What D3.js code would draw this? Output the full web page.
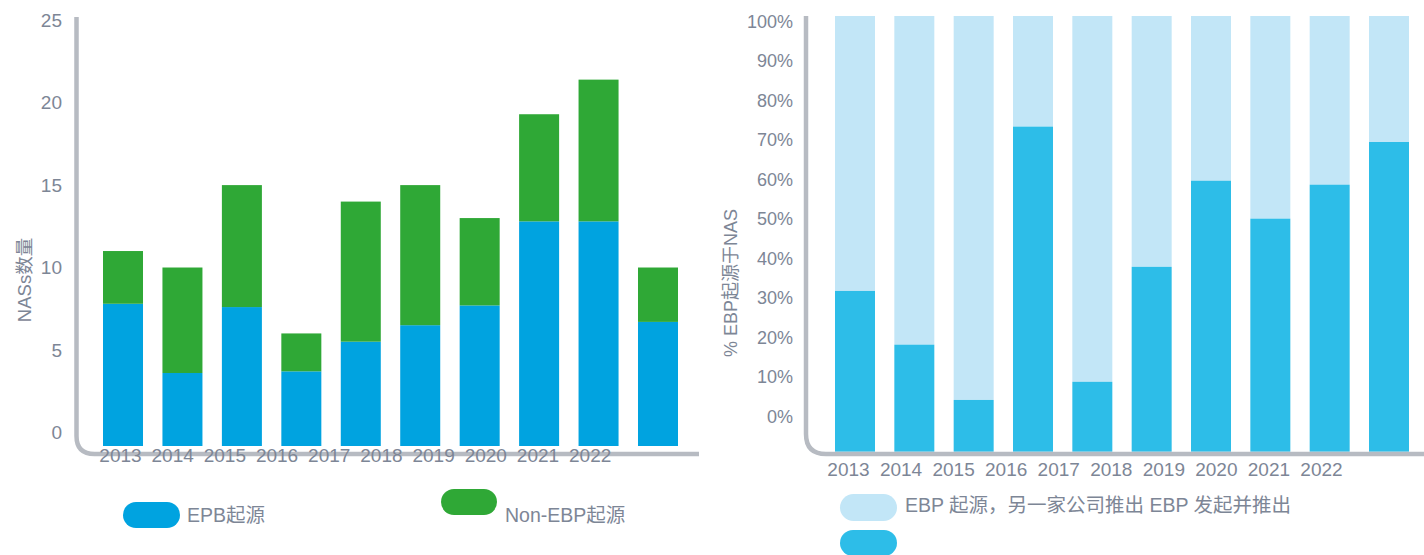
<!DOCTYPE html>
<html><head><meta charset="utf-8">
<script src="https://cdn.jsdelivr.net/npm/d3@7"></script>
<style>
body{margin:0;background:#fff;overflow:hidden}
text{font-family:"Liberation Sans",Arial,"Noto Sans CJK SC",sans-serif;fill:#7d8696}
</style>
</head><body>
<svg id="c" width="1424" height="555"></svg>
<script>
// ---------- data ----------
const years = ["2013","2014","2015","2016","2017","2018","2019","2020","2021","2022"];
// left chart: number of NASs
const epbCounts    = [7.8, 3.6, 7.6, 3.7, 5.5, 6.5, 7.7, 12.8, 12.8, 6.7];
const nonEbpCounts = [3.2, 6.4, 7.4, 2.3, 8.5, 8.5, 5.3, 6.5, 8.6, 3.3];
const countTicks   = [0, 5, 10, 15, 20, 25];
// right chart: % of NASs originated by EBP
const ebpLaunchedPct   = [31.8, 18.2, 4.2, 73.4, 8.8, 37.9, 59.7, 50.1, 58.7, 69.5];
const otherLaunchedPct = [68.2, 81.8, 95.8, 26.6, 91.2, 62.1, 40.3, 49.9, 41.3, 30.5];
const pctTicks = [0, 10, 20, 30, 40, 50, 60, 70, 80, 90, 100];

const leftLegend  = ["EPB起源", "Non-EBP起源"];
const rightLegend = ["EBP 起源，另一家公司推出 EBP 发起并推出", ""];
const leftTitle  = "NASs数量";
const rightTitle = "% EBP起源于NAS";

// ---------- styles ----------
const C = {blue:"#00a3e0", green:"#2fa836", dark:"#2dbde8", light:"#c2e6f7", axis:"#b7bbc2", text:"#7d8696"};
const svg = d3.select("#c");

function axisFrame(x0, yTop, yBot, xEnd, r){
  const p = d3.path();
  p.moveTo(x0, yTop);
  p.lineTo(x0, yBot - r);
  p.quadraticCurveTo(x0, yBot, x0 + r, yBot);
  p.lineTo(xEnd, yBot);
  svg.append("path").attr("d", p.toString()).attr("fill","none")
     .attr("stroke", C.axis).attr("stroke-width", 4.5);
}
function pill(x, y, w, h, color){
  svg.append("rect").attr("x",x).attr("y",y).attr("width",w).attr("height",h)
     .attr("rx",h/2).attr("fill",color);
}

// ================= LEFT CHART =================
{
  const y = d3.scaleLinear().domain([-0.83, 25.2]).range([446, 17]);
  const x = d3.scaleBand().domain(years).range([103, 678]).paddingInner(0.327).paddingOuter(0);
  const xl = d3.scalePoint().domain(years).range([120.5, 590.2]);
  const base = y.domain()[0];

  axisFrame(76.5, y(y.domain()[1]), 454, 699, 18);

  const g = svg.append("g");
  g.selectAll("rect.epb").data(years).join("rect").attr("class","epb")
    .attr("x", d => x(d)).attr("width", x.bandwidth())
    .attr("y", (d,i) => y(epbCounts[i])).attr("height", (d,i) => y(base) - y(epbCounts[i]))
    .attr("fill", C.blue);
  g.selectAll("rect.non").data(years).join("rect").attr("class","non")
    .attr("x", d => x(d)).attr("width", x.bandwidth())
    .attr("y", (d,i) => y(epbCounts[i] + nonEbpCounts[i]))
    .attr("height", (d,i) => y(epbCounts[i]) - y(epbCounts[i] + nonEbpCounts[i]))
    .attr("fill", C.green);

  svg.selectAll("text.ly").data(countTicks).join("text").attr("class","ly")
    .attr("x", 62).attr("y", d => y(d)).attr("dy","0.35em")
    .attr("text-anchor","end").attr("font-size", 19).text(d => d);

  svg.selectAll("text.lx").data(years).join("text").attr("class","lx")
    .attr("x", d => xl(d)).attr("y", 455).attr("dy","0.35em")
    .attr("text-anchor","middle").attr("font-size", 19).text(d => d);

  svg.append("text").attr("transform","translate(25,280) rotate(-90)")
    .attr("text-anchor","middle").attr("dy","0.35em").attr("font-size",18.5).text(leftTitle);

  pill(123, 502, 57, 26, C.blue);
  svg.append("text").attr("x",187).attr("y",515).attr("dy","0.35em").attr("font-size",19.5).text(leftLegend[0]);
  pill(441, 489, 56, 26, C.green);
  svg.append("text").attr("x",505).attr("y",515).attr("dy","0.35em").attr("font-size",19.5).text(leftLegend[1]);
}

// ================= RIGHT CHART =================
{
  const y = d3.scaleLinear().domain([-8.9, 101.4]).range([451.7, 16]);
  const x = d3.scaleBand().domain(years).range([835, 1409]).paddingInner(0.326).paddingOuter(0);
  const xl = d3.scalePoint().domain(years).range([848.5, 1321.5]);
  const base = y.domain()[0], top = y.domain()[1];

  const g = svg.append("g");
  g.selectAll("rect.lt").data(years).join("rect").attr("class","lt")
    .attr("x", d => x(d)).attr("width", x.bandwidth())
    .attr("y", (d,i) => y(Math.max(top, ebpLaunchedPct[i] + otherLaunchedPct[i])))
    .attr("height", (d,i) => y(ebpLaunchedPct[i]) - y(Math.max(top, ebpLaunchedPct[i] + otherLaunchedPct[i])))
    .attr("fill", C.light);
  g.selectAll("rect.dk").data(years).join("rect").attr("class","dk")
    .attr("x", d => x(d)).attr("width", x.bandwidth())
    .attr("y", (d,i) => y(ebpLaunchedPct[i])).attr("height", (d,i) => y(base) - y(ebpLaunchedPct[i]))
    .attr("fill", C.dark);

  axisFrame(806, y(top), 454, 1424, 20);

  svg.selectAll("text.ry").data(pctTicks).join("text").attr("class","ry")
    .attr("x", 793).attr("y", d => y(d)).attr("dy","0.35em")
    .attr("text-anchor","end").attr("font-size", 18).text(d => d + "%");

  svg.selectAll("text.rx").data(years).join("text").attr("class","rx")
    .attr("x", d => xl(d)).attr("y", 469).attr("dy","0.35em")
    .attr("text-anchor","middle").attr("font-size", 19).text(d => d);

  svg.append("text").attr("transform","translate(731,283) rotate(-90)")
    .attr("text-anchor","middle").attr("dy","0.35em").attr("font-size",18).text(rightTitle);

  pill(840, 494, 57, 27, C.light);
  svg.append("text").attr("x",905).attr("y",505).attr("dy","0.35em").attr("font-size",19.5).text(rightLegend[0]);
  pill(840, 530, 57, 26, C.dark);
}
</script>
</body></html>
